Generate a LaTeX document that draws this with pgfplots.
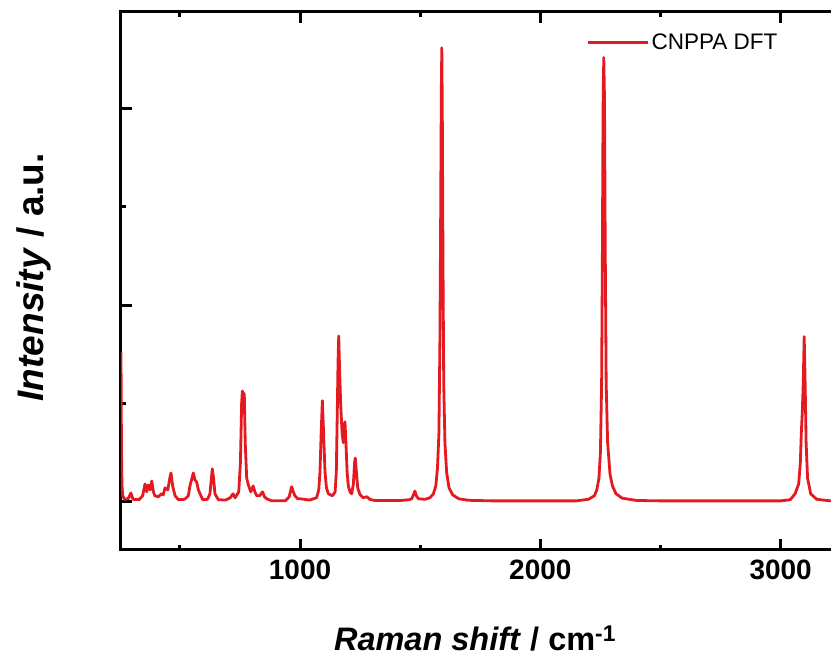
\documentclass[border=0pt]{standalone}
\usepackage{pgfplots}
\pgfplotsset{compat=1.18}
\usepackage{fontspec}
\setmainfont{Liberation Sans}
\definecolor{specred}{RGB}{228,26,32}
\begin{document}
\begin{tikzpicture}
\useasboundingbox (-121pt,-111pt) rectangle (710pt,550pt);
\clip (-121pt,-111pt) rectangle (710pt,550pt);
\begin{axis}[
  at={(0,0)}, anchor=south west,
  scale only axis,
  width=779.8pt, height=538pt,
  xmin=255, xmax=3500,
  ymin=-0.246, ymax=2.492,
  axis line style={line width=3pt},
  every tick/.style={black, line width=3pt},
  major tick length=11pt, minor tick length=5pt,
  tick align=inside,
  xtick={1000,2000,3000},
  minor xtick={500,1500,2500,3500},
  ytick={0,1,2},
  minor ytick={0.5,1.5},
  yticklabels={},
  /pgf/number format/1000 sep={},
  /pgf/number format/assume math mode=true,
  xticklabel style={font=\fontsize{28}{30}\selectfont\bfseries, yshift=-6pt},
  xlabel={\textbf{\textit{Raman shift}} \textbf{/ cm}\textsuperscript{\textbf{-1}}},
  xlabel style={at={(rel axis cs:0.454,0)}, anchor=base, yshift=-101pt, font=\fontsize{32.5}{36}\selectfont},
  ylabel={\textbf{\textit{Intensity}} \textbf{/ a.u.}},
  ylabel style={at={(rel axis cs:-0.1,0.507)}, anchor=base, font=\fontsize{37}{40}\selectfont},
  legend style={at={(rel axis cs:0.597,1)}, anchor=north west, draw=none, fill=none,
    inner sep=0pt, font=\fontsize{22.5}{24}\selectfont, yshift=-20pt},
  legend image code/.code={\draw[#1, line width=2.8pt] (0pt,0pt) -- (60pt,0pt);},
  legend cell align=left,
]
\addplot[specred, line width=2.8pt, line join=round] coordinates {
(255,0.76) (257,0.26) (259,0.085) (262,0.03) (270,0.012) (285,0.015) (296,0.044) (305,0.012)
(330,0.01) (345,0.03) (355,0.09) (362,0.05) (369,0.085) (376,0.06) (383,0.105) (390,0.05)
(396,0.03) (410,0.025) (424,0.04) (431,0.035) (438,0.07) (450,0.06) (458,0.12) (463,0.146)
(470,0.08) (480,0.03) (494,0.01) (520,0.012) (535,0.03) (542,0.08) (556,0.146) (563,0.11)
(570,0.1) (577,0.06) (584,0.04) (595,0.01) (615,0.012) (625,0.04) (635,0.167) (640,0.12)
(646,0.04) (660,0.01) (690,0.008) (710,0.02) (721,0.04) (730,0.02) (745,0.05) (752,0.2)
(757,0.5) (760,0.563) (764,0.45) (768,0.55) (772,0.3) (778,0.12) (785,0.085) (795,0.05)
(805,0.08) (812,0.05) (820,0.03) (832,0.03) (844,0.05) (852,0.025) (861,0.015) (880,0.005)
(940,0.005) (955,0.025) (965,0.076) (972,0.05) (979,0.03) (990,0.015) (1000,0.015) (1040,0.008)
(1069,0.02) (1078,0.06) (1083,0.15) (1088,0.35) (1093,0.514) (1098,0.35) (1104,0.15) (1110,0.07)
(1118,0.04) (1135,0.03) (1146,0.05) (1151,0.15) (1155,0.45) (1158,0.7) (1161,0.843) (1164,0.7)
(1169,0.5) (1175,0.35) (1180,0.3) (1184,0.38) (1187,0.407) (1191,0.3) (1196,0.15) (1201,0.08)
(1208,0.05) (1215,0.04) (1222,0.09) (1227,0.2) (1230,0.222) (1234,0.16) (1240,0.07) (1250,0.035)
(1263,0.02) (1278,0.025) (1290,0.012) (1310,0.006) (1380,0.006) (1420,0.006) (1455,0.01) (1465,0.015)
(1472,0.035) (1478,0.054) (1484,0.03) (1492,0.015) (1520,0.012) (1541,0.02) (1555,0.04) (1565,0.08)
(1572,0.17) (1578,0.35) (1582,0.8) (1585,1.4) (1588,2.1) (1590,2.31) (1592,2.0) (1595,1.2)
(1598,0.6) (1603,0.3) (1610,0.15) (1620,0.07) (1635,0.035) (1660,0.015) (1700,0.007) (1800,0.004)
(2150,0.004) (2200,0.012) (2225,0.03) (2235,0.06) (2244,0.12) (2250,0.25) (2255,0.6) (2258,1.2)
(2261,2.0) (2264,2.26) (2267,2.05) (2270,1.3) (2274,0.6) (2280,0.3) (2290,0.14) (2300,0.08)
(2315,0.04) (2340,0.018) (2400,0.006) (2500,0.004) (3000,0.004) (3040,0.01) (3060,0.04) (3075,0.09)
(3082,0.2) (3086,0.35) (3090,0.45) (3094,0.6) (3098,0.84) (3102,0.6) (3106,0.3) (3112,0.12)
(3125,0.04) (3150,0.012) (3200,0.005) (3300,0.003) (3500,0.003)
};
\addlegendentry{CNPPA DFT}
\end{axis}
\end{tikzpicture}
\end{document}
